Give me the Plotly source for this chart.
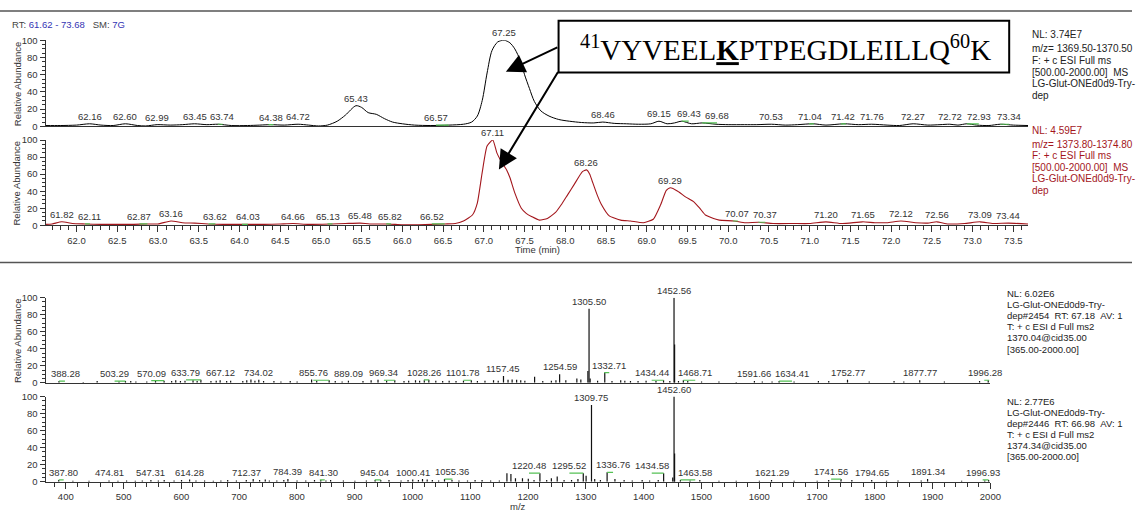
import plotly.graph_objects as go

W, H = 1143, 517

# ---------------- XIC, m/z 1369.50-1370.50 (black) ----------------
xic1_rt = [61.62, 61.80, 62.00, 62.16, 62.30, 62.45, 62.60, 62.75, 62.85, 62.99,
           63.15, 63.30, 63.45, 63.60, 63.74, 63.90, 64.10, 64.25, 64.38, 64.55,
           64.72, 64.85, 64.97, 65.08, 65.20, 65.30, 65.43, 65.50, 65.58, 65.68,
           65.78, 65.88, 66.00, 66.15, 66.35, 66.57, 66.75, 66.85, 66.92, 66.98,
           67.04, 67.10, 67.17, 67.25, 67.32, 67.38, 67.45, 67.50, 67.56, 67.62,
           67.70, 67.80, 67.92, 68.05, 68.20, 68.35, 68.46, 68.60, 68.75, 68.90,
           69.05, 69.15, 69.25, 69.34, 69.43, 69.55, 69.68, 69.85, 70.00, 70.20,
           70.35, 70.53, 70.70, 70.85, 71.04, 71.20, 71.42, 71.60, 71.76, 71.95,
           72.10, 72.27, 72.45, 72.60, 72.72, 72.82, 72.93, 73.05, 73.20, 73.34,
           73.50, 73.68]
xic1_ab = [1.0, 1.0, 1.5, 3.0, 1.5, 1.0, 3.0, 1.0, 0.5, 2.0,
           1.5, 2.0, 3.0, 2.0, 2.5, 1.0, 1.0, 1.5, 2.0, 1.5,
           2.5, 1.5, 0.5, 1.5, 6.0, 13.0, 24.0, 22.0, 16.0, 14.0,
           9.0, 5.0, 3.0, 1.5, 1.0, 1.5, 2.5, 5.0, 12.0, 30.0,
           62.0, 88.0, 98.0, 100.0, 97.0, 90.0, 76.0, 60.0, 44.0, 29.0,
           18.0, 12.0, 8.0, 6.0, 4.5, 4.0, 5.0, 3.5, 3.0, 2.5,
           3.0, 6.0, 3.0, 4.0, 6.0, 3.0, 4.0, 2.5, 2.0, 2.0,
           2.0, 2.5, 1.5, 2.0, 3.0, 1.5, 3.0, 2.0, 2.5, 1.5,
           1.0, 3.0, 1.5, 2.0, 2.5, 1.5, 3.0, 1.5, 1.0, 2.5,
           1.5, 1.0]
xic1_labels = [62.16, 62.60, 62.99, 63.45, 63.74, 64.38, 64.72, 65.43, 66.57, 67.25,
               68.46, 69.15, 69.43, 69.68, 70.53, 71.04, 71.42, 71.76, 72.27, 72.72,
               72.93, 73.34]
xic1_info = ["NL: 3.74E7", "m/z= 1369.50-1370.50", "F: + c ESI Full ms",
             "[500.00-2000.00]\u00a0\u00a0MS", "LG-Glut-ONEd0d9-Try-", "dep"]

# ---------------- XIC, m/z 1373.80-1374.80 (red) ----------------
xic2_rt = [61.62, 61.70, 61.82, 61.95, 62.11, 62.30, 62.50, 62.70, 62.87, 63.00,
           63.16, 63.30, 63.45, 63.62, 63.80, 64.03, 64.30, 64.50, 64.66, 64.85,
           65.13, 65.30, 65.48, 65.60, 65.82, 66.00, 66.20, 66.52, 66.65, 66.75,
           66.86, 66.92, 66.98, 67.04, 67.11, 67.16, 67.22, 67.28, 67.32, 67.38,
           67.46, 67.52, 67.59, 67.68, 67.78, 67.88, 67.95, 68.03, 68.11, 68.21,
           68.26, 68.30, 68.33, 68.39, 68.44, 68.54, 68.68, 68.80, 68.96, 69.08,
           69.17, 69.24, 69.29, 69.38, 69.48, 69.57, 69.65, 69.72, 69.82, 69.89,
           70.07, 70.21, 70.37, 70.55, 70.80, 71.00, 71.20, 71.40, 71.65, 71.80,
           71.95, 72.12, 72.30, 72.45, 72.56, 72.70, 72.90, 73.09, 73.25, 73.44,
           73.68]
xic2_ab = [1.0, 1.5, 4.0, 2.0, 1.5, 1.0, 1.0, 1.0, 1.5, 1.5,
           5.0, 3.0, 2.5, 1.5, 1.0, 1.0, 1.0, 1.5, 2.0, 1.0,
           1.5, 2.0, 2.5, 1.5, 1.5, 0.5, 0.5, 1.5, 2.0, 5.0,
           12.0, 26.0, 62.0, 93.0, 100.0, 85.0, 74.0, 65.0, 56.0, 38.0,
           20.0, 14.0, 10.0, 6.0, 8.0, 15.0, 24.0, 36.0, 48.0, 63.0,
           65.0, 60.0, 52.0, 36.0, 25.0, 11.0, 6.0, 5.0, 3.0, 7.0,
           24.0, 41.0, 44.0, 40.0, 33.0, 28.0, 20.0, 12.0, 8.0, 6.0,
           5.0, 3.0, 3.5, 2.0, 2.0, 2.0, 4.0, 2.0, 4.0, 3.0,
           3.0, 5.0, 3.0, 2.5, 4.0, 1.5, 2.0, 4.0, 2.0, 2.5,
           1.5]
xic2_labels = [61.82, 62.11, 62.87, 63.16, 63.62, 64.03, 64.66, 65.13, 65.48, 65.82,
               66.52, 67.11, 68.26, 69.29, 70.07, 70.37, 71.20, 71.65, 72.12, 72.56,
               73.09, 73.44]
xic2_info = ["NL: 4.59E7", "m/z= 1373.80-1374.80", "F: + c ESI Full ms",
             "[500.00-2000.00]\u00a0\u00a0MS", "LG-Glut-ONEd0d9-Try-", "dep"]

# ---------------- MS2 scan #2454 (precursor 1370.04) ----------------
ms1_mz = [388.28, 430.2, 454.3, 492.1, 503.29, 512.4, 521.3, 540.2, 555.3, 570.09,
          583.2, 590.3, 598.4, 606.3, 620.2, 627.3, 633.79, 651.2, 660.3, 667.12,
          678.4, 685.3, 706.3, 713.2, 720.4, 727.3, 734.02, 742.3, 760.2, 772.3,
          788.4, 800.3, 825.4, 834.2, 855.76, 866.3, 878.2, 889.09, 914.3, 928.4,
          940.3, 955.2, 969.34, 985.3, 993.4, 1005.2, 1012.3, 1020.4, 1028.26, 1040.3,
          1052.2, 1063.4, 1075.3, 1088.2, 1101.78, 1112.3, 1125.4, 1140.2, 1148.3, 1157.45,
          1165.3, 1172.4, 1180.2, 1187.3, 1194.4, 1211.3, 1225.4, 1240.3, 1248.2, 1254.59,
          1265.3, 1284.4, 1291.3, 1303.5, 1305.50, 1307.4, 1320.3, 1332.71, 1345.2, 1360.3,
          1367.4, 1377.2, 1390.3, 1404.2, 1421.3, 1434.44, 1445.3, 1452.56, 1453.55, 1460.3,
          1468.71, 1476.3, 1500.2, 1530.3, 1560.2, 1591.66, 1605.3, 1622.2, 1634.41, 1660.3,
          1702.4, 1720.3, 1752.77, 1790.3, 1833.3, 1850.2, 1877.77, 1920.4, 1981.3, 1996.28]
ms1_int = [2.0, 1.0, 2.0, 1.5, 2.0, 2.0, 1.5, 1.5, 2.0, 2.5,
           2.0, 3.0, 2.0, 2.5, 3.0, 2.0, 3.5, 2.0, 2.5, 3.0,
           2.0, 2.5, 2.0, 3.0, 4.0, 2.5, 3.5, 2.0, 2.0, 1.5,
           2.0, 1.5, 4.0, 2.5, 3.0, 2.0, 1.5, 2.5, 2.0, 3.0,
           3.5, 2.5, 3.0, 2.0, 2.5, 3.0, 2.5, 3.0, 3.5, 2.5,
           2.0, 2.5, 2.0, 2.5, 3.0, 2.0, 2.5, 3.0, 2.5, 8.0,
           3.5, 4.0, 3.5, 3.0, 2.5, 7.0, 2.0, 2.5, 3.0, 10.0,
           3.0, 5.0, 4.0, 14.0, 87.0, 5.0, 2.5, 12.0, 2.0, 3.0,
           2.5, 2.0, 2.0, 2.5, 2.0, 3.0, 2.0, 100.0, 45.0, 2.0,
           3.0, 2.0, 1.5, 1.5, 1.0, 2.0, 1.5, 1.5, 2.0, 1.5,
           2.0, 2.0, 3.5, 1.5, 2.0, 1.5, 3.0, 1.5, 2.0, 3.0]
ms1_labels = [388.28, 503.29, 570.09, 633.79, 667.12, 734.02, 855.76, 889.09, 969.34,
              1028.26, 1101.78, 1157.45, 1254.59, 1305.50, 1332.71, 1434.44, 1452.56,
              1468.71, 1591.66, 1634.41, 1752.77, 1877.77, 1996.28]
ms1_info = ["NL: 6.02E6", "LG-Glut-ONEd0d9-Try-",
            "dep#2454\u00a0\u00a0RT: 67.18\u00a0\u00a0AV: 1", "T: + c ESI d Full ms2",
            "1370.04@cid35.00", "[365.00-2000.00]"]

# ---------------- MS2 scan #2446 (precursor 1374.34) ----------------
ms2_mz = [387.80, 412.3, 440.2, 474.81, 490.3, 505.2, 520.3, 532.4, 547.31, 560.2,
          570.3, 587.4, 600.3, 614.28, 625.3, 640.2, 655.3, 668.4, 680.2, 695.3,
          712.37, 724.3, 735.4, 745.2, 752.3, 765.2, 777.3, 784.39, 800.2, 815.3,
          830.4, 841.30, 850.2, 858.3, 880.4, 900.3, 920.2, 935.3, 945.04, 959.3,
          980.2, 992.3, 1000.41, 1010.2, 1017.3, 1025.4, 1034.3, 1045.2, 1055.36, 1068.3,
          1080.4, 1095.2, 1108.3, 1120.4, 1135.2, 1150.3, 1163.4, 1170.3, 1178.2, 1190.3,
          1200.4, 1210.3, 1220.48, 1232.2, 1240.3, 1250.4, 1262.3, 1275.2, 1286.3, 1295.52,
          1300.4, 1309.75, 1315.3, 1325.2, 1336.76, 1350.3, 1366.2, 1380.3, 1397.4, 1410.3,
          1425.2, 1434.58, 1450.3, 1452.60, 1453.55, 1463.58, 1480.3, 1497.2, 1530.3, 1560.2,
          1600.3, 1621.29, 1660.4, 1700.3, 1720.2, 1741.56, 1760.3, 1794.65, 1820.3, 1840.2,
          1880.3, 1891.34, 1950.2, 1990.3, 1996.93]
ms2_int = [2.0, 1.0, 1.0, 1.5, 1.0, 1.5, 1.0, 1.5, 2.0, 1.5,
           2.0, 1.5, 2.0, 2.5, 1.5, 1.5, 1.0, 1.5, 2.0, 1.5,
           2.0, 3.0, 2.0, 2.5, 1.5, 1.5, 2.0, 3.0, 1.5, 1.5,
           2.0, 2.0, 1.5, 2.0, 1.5, 1.0, 1.5, 2.0, 2.0, 2.0,
           1.5, 2.0, 2.5, 2.0, 3.0, 2.5, 2.0, 1.5, 3.0, 2.0,
           1.5, 1.5, 2.0, 2.0, 1.5, 1.5, 10.0, 9.0, 4.0, 4.0,
           3.5, 2.0, 10.0, 2.0, 4.0, 6.0, 2.0, 2.0, 3.0, 10.0,
           7.0, 90.0, 3.0, 2.0, 11.0, 3.0, 2.0, 1.5, 2.0, 1.5,
           2.0, 10.0, 5.0, 100.0, 33.0, 2.0, 1.5, 2.0, 1.0, 1.0,
           1.0, 2.0, 1.0, 1.0, 2.0, 3.0, 2.0, 2.0, 1.0, 1.5,
           1.5, 3.0, 1.0, 1.5, 2.0]
ms2_labels = [387.80, 474.81, 547.31, 614.28, 712.37, 784.39, 841.30, 945.04, 1000.41,
              1055.36, 1220.48, 1295.52, 1309.75, 1336.76, 1434.58, 1452.60, 1463.58,
              1621.29, 1741.56, 1794.65, 1891.34, 1996.93]
ms2_info = ["NL: 2.77E6", "LG-Glut-ONEd0d9-Try-",
            "dep#2446\u00a0\u00a0RT: 66.98\u00a0\u00a0AV: 1", "T: + c ESI d Full ms2",
            "1374.34@cid35.00", "[365.00-2000.00]"]

# ---------------- label displacement (pixels) ----------------
# Labels moved sideways to avoid crowding get a green leader back to their peak.
SHIFT_XIC1 = {63.74: 4, 64.38: 1, 66.57: -13, 69.43: 7, 69.68: 15, 71.04: -3,
              71.42: -1, 72.93: 12, 73.34: 9}
SHIFT_XIC2 = {62.11: 4, 62.87: -8, 63.62: 7, 64.03: 6, 65.13: -3, 65.82: 2,
              66.52: -13, 70.07: 3, 70.37: 7}
SHIFT_MS1 = {388.28: 6, 503.29: -11, 570.09: -13, 633.79: -15, 855.76: -16,
             969.34: -11, 1028.26: -5, 1101.78: -8, 1332.71: 4, 1434.44: -12,
             1468.71: 12, 1634.41: 13, 1996.28: -3}
SHIFT_MS2 = {387.80: 5, 841.30: 3, 945.04: -6, 1055.36: 8, 1220.48: -11,
             1295.52: -14, 1336.76: 6, 1434.58: -12, 1463.58: 15, 1741.56: -10,
             1996.93: -6}

# ---------------- styling ----------------
FONT = "Liberation Sans, Arial, sans-serif"
AX = "#333333"
RED = "#a3161c"
BLUE = "#3434b4"
GREEN = "#55c155"


def fx(p):
    return p / W


def fy(p):
    return 1 - p / H


# panel boxes in pixels: left, right, top, bottom
P_TOP = (46, 1038, 35, 123)
P_MID = (46, 1038, 137, 224)
P_MS1 = (46, 1000, 298, 385)
P_MS2 = (46, 1000, 399, 486)

RT_RANGE = [61.62, 73.68]
MZ_RANGE = [365, 2000]

# data units per pixel along each x axis
RT_PER_PX = (RT_RANGE[1] - RT_RANGE[0]) / (P_MID[1] - P_MID[0])
MZ_PER_PX = (MZ_RANGE[1] - MZ_RANGE[0]) / (P_MS1[1] - P_MS1[0])


def dom(box):
    l, r, t, b = box
    return [fx(l), fx(r)], [fy(b), fy(t)]


def lookup(xs, ys, v):
    return ys[xs.index(v)]


def sticks(mz, inten):
    xs, ys = [], []
    for m, i in zip(mz, inten):
        xs += [m, m, None]
        ys += [0, i, None]
    return xs, ys


def leaders(xs, ys, shifts, per_px):
    gx, gy = [], []
    for v, s in shifts.items():
        h = lookup(xs, ys, v)
        a, b = sorted([v, v + s * per_px])
        if (b - a) < 5 * per_px:
            c = (a + b) / 2
            a, b = c - 2.5 * per_px, c + 2.5 * per_px
        gx += [a, b, None]
        gy += [h, h, None]
    return gx, gy


fig = go.Figure()

# chromatogram traces
fig.add_trace(go.Scatter(x=xic1_rt, y=xic1_ab, mode="lines",
                         line=dict(color="#000000", width=1, shape="spline", smoothing=0.8),
                         xaxis="x", yaxis="y", hoverinfo="skip"))
fig.add_trace(go.Scatter(x=xic2_rt, y=xic2_ab, mode="lines",
                         line=dict(color=RED, width=1.1, shape="spline", smoothing=0.5),
                         xaxis="x2", yaxis="y2", hoverinfo="skip"))

# stick spectra
sx, sy = sticks(ms1_mz, ms1_int)
fig.add_trace(go.Scatter(x=sx, y=sy, mode="lines", line=dict(color="#111111", width=1.2),
                         xaxis="x3", yaxis="y3", hoverinfo="skip"))
sx, sy = sticks(ms2_mz, ms2_int)
fig.add_trace(go.Scatter(x=sx, y=sy, mode="lines", line=dict(color="#111111", width=1.2),
                         xaxis="x4", yaxis="y4", hoverinfo="skip"))

# green leaders for displaced labels
for xs, ys, shifts, per_px, xa, ya in [
    (xic1_rt, xic1_ab, SHIFT_XIC1, RT_PER_PX, "x", "y"),
    (xic2_rt, xic2_ab, SHIFT_XIC2, RT_PER_PX, "x2", "y2"),
    (ms1_mz, ms1_int, SHIFT_MS1, MZ_PER_PX, "x3", "y3"),
    (ms2_mz, ms2_int, SHIFT_MS2, MZ_PER_PX, "x4", "y4"),
]:
    gx, gy = leaders(xs, ys, shifts, per_px)
    fig.add_trace(go.Scatter(x=gx, y=gy, mode="lines", line=dict(color=GREEN, width=1.2),
                             xaxis=xa, yaxis=ya, hoverinfo="skip"))

tickfont = dict(family=FONT, size=9.5, color=AX)


def yaxis(box, anchor):
    _, d = dom(box)
    return dict(domain=d, anchor=anchor, range=[0, 100], tickmode="linear", tick0=0, dtick=20,
                ticks="outside", ticklen=5, tickwidth=1, tickcolor=AX, tickfont=tickfont,
                showline=True, linecolor=AX, linewidth=1, showgrid=False, zeroline=False,
                minor=dict(dtick=5, ticks="outside", ticklen=3, tickwidth=1, tickcolor=AX))


def xaxis(box, anchor, rng, labelled, dtick, tick0, minor_dtick, fmt):
    d, _ = dom(box)
    ax = dict(domain=d, anchor=anchor, range=rng, showline=True, linecolor=AX, linewidth=1,
              showgrid=False, zeroline=False)
    if labelled:
        ax.update(tickmode="linear", dtick=dtick, tick0=tick0, ticks="outside", ticklen=6,
                  tickwidth=1, tickcolor=AX, tickfont=tickfont, tickformat=fmt,
                  minor=dict(dtick=minor_dtick, ticks="outside", ticklen=4, tickwidth=1,
                             tickcolor=AX))
    else:
        ax.update(ticks="", showticklabels=False)
    return ax


fig.update_layout(
    width=W, height=H, autosize=False,
    margin=dict(l=0, r=0, t=0, b=0),
    paper_bgcolor="white", plot_bgcolor="white",
    showlegend=False,
    xaxis=xaxis(P_TOP, "y", RT_RANGE, False, None, None, None, None),
    yaxis=yaxis(P_TOP, "x"),
    xaxis2=xaxis(P_MID, "y2", RT_RANGE, True, 0.5, 62.0, 0.1, ".1f"),
    yaxis2=yaxis(P_MID, "x2"),
    xaxis3=xaxis(P_MS1, "y3", MZ_RANGE, False, None, None, None, None),
    yaxis3=yaxis(P_MS1, "x3"),
    xaxis4=xaxis(P_MS2, "y4", MZ_RANGE, True, 100, 0, 20, "d"),
    yaxis4=yaxis(P_MS2, "x4"),
)

ann = []

# peak labels
for xs, ys, labels, shifts, xa, ya in [
    (xic1_rt, xic1_ab, xic1_labels, SHIFT_XIC1, "x", "y"),
    (xic2_rt, xic2_ab, xic2_labels, SHIFT_XIC2, "x2", "y2"),
    (ms1_mz, ms1_int, ms1_labels, SHIFT_MS1, "x3", "y3"),
    (ms2_mz, ms2_int, ms2_labels, SHIFT_MS2, "x4", "y4"),
]:
    for v in labels:
        ann.append(dict(x=v, y=lookup(xs, ys, v), xref=xa, yref=ya, text="{:.2f}".format(v),
                        showarrow=False, xanchor="center", yanchor="bottom",
                        xshift=shifts.get(v, 0), yshift=0,
                        font=dict(family=FONT, size=9.5, color=AX)))

# y-axis titles
for box in (P_TOP, P_MID, P_MS1):
    ann.append(dict(x=fx(17), y=fy((box[2] + box[3]) / 2), xref="paper", yref="paper",
                    text="Relative Abundance", textangle=-90, showarrow=False,
                    xanchor="center", yanchor="middle",
                    font=dict(family=FONT, size=9.5, color=AX)))

# x-axis titles
ann.append(dict(x=fx(543), y=fy(249), xref="paper", yref="paper", text="Time (min)",
                showarrow=False, xanchor="center", yanchor="middle",
                font=dict(family=FONT, size=9.5, color=AX)))
ann.append(dict(x=fx(523), y=fy(511), xref="paper", yref="paper", text="m/z",
                showarrow=False, xanchor="center", yanchor="middle",
                font=dict(family=FONT, size=9.5, color=AX)))

# header
ann.append(dict(x=fx(10), y=fy(19), xref="paper", yref="paper",
                text=("RT: <span style='color:%s'>61.62 - 73.68</span>\u00a0\u00a0\u00a0"
                      "SM: <span style='color:%s'>7G</span>") % (BLUE, BLUE),
                showarrow=False, xanchor="left", yanchor="middle",
                font=dict(family=FONT, size=9.5, color="#444444")))

# scan / trace information blocks
CHROM_OFFS = [0, 14, 26, 38, 49.5, 61.5]
MS_OFFS = [0, 11.3, 22.6, 33.9, 45.2, 56.5]
for lines, x0, y0, offs, col, size in [
    (xic1_info, 1040, 29.5, CHROM_OFFS, "#222222", 10),
    (xic2_info, 1040, 127, CHROM_OFFS, RED, 10),
    (ms1_info, 1015, 294, MS_OFFS, "#222222", 9.5),
    (ms2_info, 1015, 404, MS_OFFS, "#222222", 9.5),
]:
    for line, o in zip(lines, offs):
        ann.append(dict(x=fx(x0), y=fy(y0 + o), xref="paper", yref="paper", text=line,
                        showarrow=False, xanchor="left", yanchor="middle",
                        font=dict(family=FONT, size=size, color=col)))

# peptide sequence call-out
BOX = (564, 1019, 15, 68)
ann.append(dict(x=fx((BOX[0] + BOX[1]) / 2 + 2), y=fy((BOX[2] + BOX[3]) / 2 + 1),
                xref="paper", yref="paper",
                text="<sup>41</sup>VYVEEL<b><u>K</u></b>PTPEGDLEILLQ<sup>60</sup>K",
                showarrow=False, xanchor="center", yanchor="middle",
                font=dict(family="Liberation Serif, Times New Roman, serif", size=29,
                          color="#000000")))

# arrows from the call-out to the two chromatographic peaks
ann.append(dict(x=67.27, y=63.5, xref="x", yref="y", text="", showarrow=True,
                arrowhead=2, arrowsize=1.9, arrowwidth=2, arrowcolor="#000000",
                ax=53, ay=-25, axref="pixel", ayref="pixel"))
ann.append(dict(x=67.185, y=65.5, xref="x2", yref="y2", text="", showarrow=True,
                arrowhead=2, arrowsize=1.9, arrowwidth=2, arrowcolor="#000000",
                ax=60, ay=-99, axref="pixel", ayref="pixel"))

fig.update_layout(annotations=ann)

shapes = [
    dict(type="rect", xref="paper", yref="paper",
         x0=fx(BOX[0]), x1=fx(BOX[1]), y0=fy(BOX[3]), y1=fy(BOX[2]),
         line=dict(color="#000000", width=2), fillcolor="rgba(0,0,0,0)", layer="above"),
    dict(type="line", xref="paper", yref="paper", x0=0, x1=1, y0=fy(5), y1=fy(5),
         line=dict(color="#555555", width=1.5)),
    dict(type="line", xref="paper", yref="paper", x0=0, x1=1, y0=fy(262), y1=fy(262),
         line=dict(color="#555555", width=1.5)),
]
fig.update_layout(shapes=shapes)

fig.write_html("out.html")
